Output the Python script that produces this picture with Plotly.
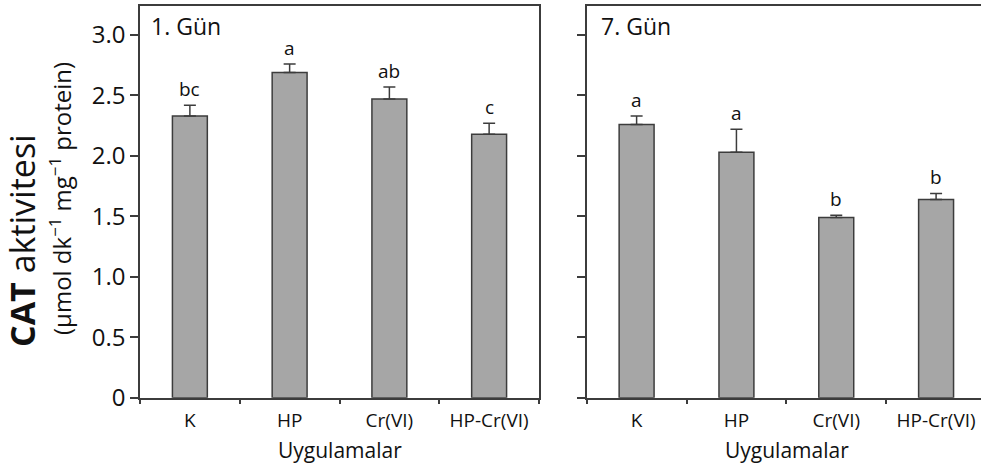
import plotly.graph_objects as go

# ---- data ----
categories = ["K", "HP", "Cr(VI)", "HP-Cr(VI)"]
day1_values = [2.33, 2.69, 2.47, 2.18]
day1_errors = [0.09, 0.07, 0.10, 0.09]
day1_letters = ["bc", "a", "ab", "c"]
day7_values = [2.26, 2.03, 1.49, 1.64]
day7_errors = [0.07, 0.19, 0.02, 0.05]
day7_letters = ["a", "a", "b", "b"]
y_tickvals = [0, 0.5, 1.0, 1.5, 2.0, 2.5, 3.0]
y_ticktext = ["0", "0.5", "1.0", "1.5", "2.0", "2.5", "3.0"]
panel_titles = ["1. Gün", "7. Gün"]
x_title = "Uygulamalar"

# the right panel runs slightly past the 981 px window edge, as in the reference
W, H = 992, 470
FONT = "Open Sans"
LINE = "#3c3c3c"
BAR = "#a6a6a6"

def px_x(p):
    return p / W

def px_y(p):
    return (H - p) / H

fig = go.Figure()

for vals, errs, xa, ya in [(day1_values, day1_errors, "x", "y"),
                            (day7_values, day7_errors, "x2", "y2")]:
    fig.add_trace(go.Bar(
        x=categories, y=vals, width=0.35,
        marker=dict(color=BAR, line=dict(color=LINE, width=1.5)),
        error_y=dict(type="data", symmetric=False, array=errs,
                     arrayminus=[0] * len(errs), color=LINE,
                     thickness=1.5, width=6),
        xaxis=xa, yaxis=ya, showlegend=False, hoverinfo="skip"))

annotations = []
for vals, errs, letters, xa, ya in [(day1_values, day1_errors, day1_letters, "x", "y"),
                                     (day7_values, day7_errors, day7_letters, "x2", "y2")]:
    for c, v, e, t in zip(categories, vals, errs, letters):
        annotations.append(dict(x=c, y=v + e, xref=xa, yref=ya, text=t,
                                showarrow=False, yanchor="bottom", yshift=1,
                                font=dict(family=FONT, size=19, color="#111")))

# panel titles
for t, xa, ya, sh in [(panel_titles[0], "x domain", "y domain", 9),
                      (panel_titles[1], "x2 domain", "y2 domain", 12)]:
    annotations.append(dict(x=0, y=1, xref=xa, yref=ya,
                            text=t, showarrow=False, xanchor="left", yanchor="top",
                            xshift=sh, yshift=-2,
                            font=dict(family=FONT, size=23, color="#111")))

# x titles
for cx in [(140 + 539) / 2, (587 + 986) / 2]:
    annotations.append(dict(x=px_x(cx), y=px_y(450), xref="paper", yref="paper",
                            text=x_title, showarrow=False, xanchor="center", yanchor="middle",
                            font=dict(family=FONT, size=21, color="#111")))

# y title (two lines)
annotations.append(dict(x=px_x(22), y=px_y(241), xref="paper", yref="paper",
                        text="<b>CAT</b> aktivitesi", textangle=-90, showarrow=False,
                        xanchor="center", yanchor="middle",
                        font=dict(family=FONT, size=34, color="#111")))
annotations.append(dict(x=px_x(60), y=px_y(199), xref="paper", yref="paper",
                        text="(µmol dk<sup>−1</sup> mg<sup>−1</sup> protein)", textangle=-90,
                        showarrow=False, xanchor="center", yanchor="middle",
                        font=dict(family=FONT, size=24, color="#111")))

ydom = [px_y(397.7), px_y(6)]
common_x = dict(type="category", showline=True, linecolor=LINE, linewidth=1.5,
                mirror=True, ticks="outside", tickson="boundaries", ticklen=5,
                tickwidth=1.5, tickcolor=LINE, showgrid=False, zeroline=False,
                ticklabelstandoff=5, range=[-0.5, 3.5],
                tickfont=dict(family=FONT, size=19, color="#111"), automargin=False)
common_y = dict(range=[0, 3.24], tickvals=y_tickvals, ticktext=y_ticktext,
                showline=True, linecolor=LINE, linewidth=1.5, ticks="outside",
                ticklen=8, tickwidth=1.5, tickcolor=LINE, showgrid=False,
                zeroline=False, domain=ydom, automargin=False,
                tickfont=dict(family=FONT, size=24, color="#111"))

fig.update_layout(
    width=W, height=H,
    margin=dict(l=0, r=0, t=0, b=0),
    paper_bgcolor="white", plot_bgcolor="white",
    bargap=0.65,
    xaxis=dict(common_x, domain=[px_x(140), px_x(539)], anchor="y"),
    yaxis=dict(common_y, mirror=True, anchor="x"),
    xaxis2=dict(common_x, domain=[px_x(586.7), px_x(986)], anchor="y2"),
    yaxis2=dict(common_y, mirror=True, showticklabels=False, anchor="x2"),
    annotations=annotations,
)

fig.write_html(
    "out.html",
    config={"displayModeBar": False},
    post_script="document.documentElement.style.overflow='hidden';"
                "document.body.style.margin='0';document.body.style.overflow='hidden';",
)
